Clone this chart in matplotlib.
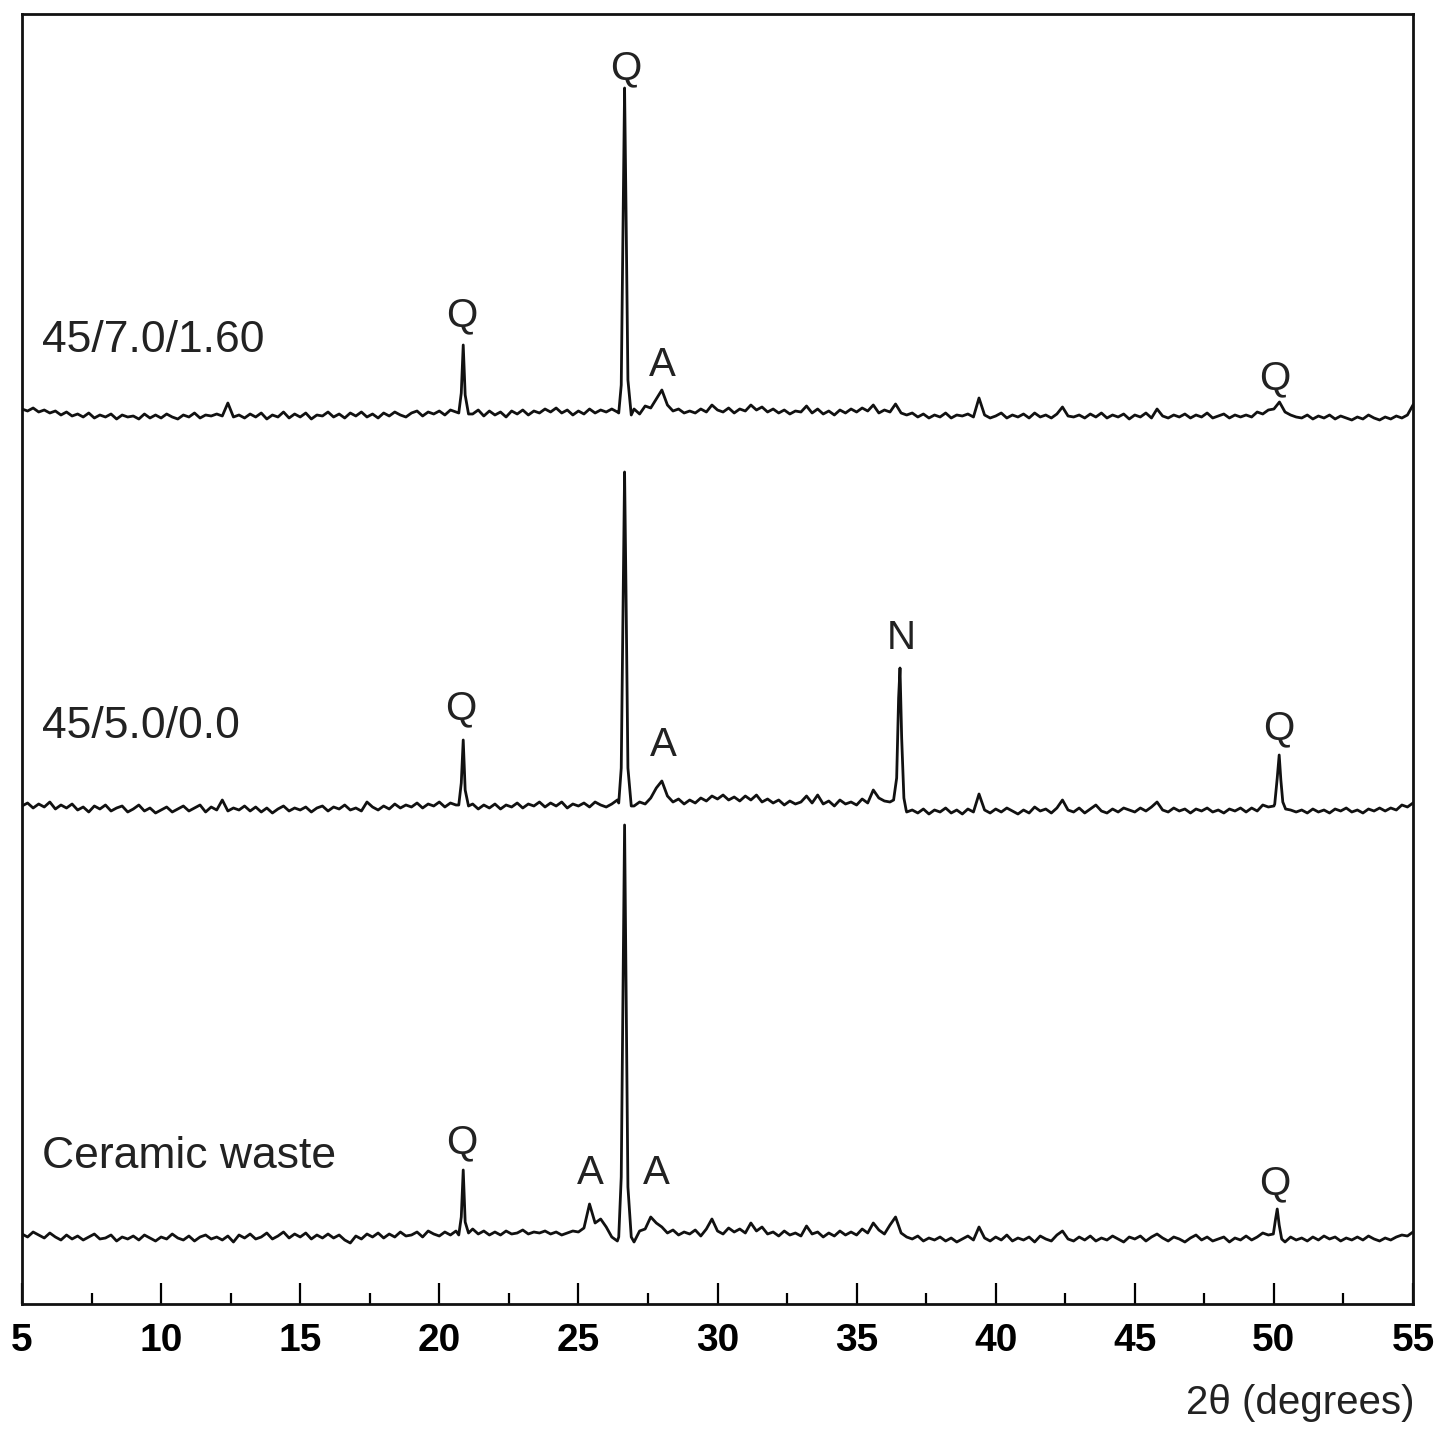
import numpy as np
import matplotlib.pyplot as plt

plt.rcParams['font.family'] = ['Liberation Sans', 'DejaVu Sans']

# 2-theta grid for the background counts (0.2 deg steps)
two_theta = np.round(np.arange(5.0, 55.0001, 0.2), 1)

# background counts, one row per degree (x.0 .. x.8), last value at 55
base_top = [
    6, 4, 7, 3, 5,   2, 4, 0, 3, -1,   1, -2, 2, -3, 0,   -2, 1, -4, 0, -2,
    -1, -4, 1, -3, 0,   -3, 1, -2, -4, 0,   -2, 2, -3, 0, -1,   1, -1, 12, -2, 0,
    -3, 1, -2, 2, -4,   0, -2, 3, -3, 1,   -2, 2, -4, 0, -1,   3, -2, 1, -3, 2,
    -1, 3, -2, 1, -3,   2, -1, 3, 0, -2,   2, 4, -1, 3, 1,   4, 0, 5, 3, 0,
    0, 1, 5, -1, 4,   0, 3, -2, 4, 1,   5, 0, 4, 2, 6,   3, 7, 2, 5, 0,
    4, 1, 6, 2, 5,   3, 6, 3, 0, 0,   6, 1, 9, 7, 16,   25, 10, 4, 6, 2,
    4, 2, 6, 3, 10,   5, 3, 7, 2, 6,   4, 10, 5, 8, 3,   6, 2, 5, 1, 4,
    3, 9, 2, 6, 1,   4, 0, 5, 2, 6,   3, 7, 4, 10, 2,   5, 3, 11, 2, 0,
    2, -2, 1, -3, 0,   -2, 2, -3, 0, -1,   1, -2, 17, 0, -3,   -1, 2, -3, 0, -2,
    1, -3, 2, -2, 0,   -3, 1, 8, -1, -2,   0, -3, 1, -2, 2,   -3, 0, -2, 1, -4,
    0, -2, 2, -3, 6,   -1, -3, 0, -2, 1,   -3, 0, -2, 2, -3,   -1, 1, -3, 0, -2,
    0, -2, 3, 1, 5,   6, 13, 3, 0, -2,   -3, 0, -4, -1, -3,   0, -4, -1, -3, -5,
    -2, -4, 0, -3, -5,   -2, -4, -1, -3, 0,
    10,
]
base_mid = [
    2, 5, 0, 4, 1,   6, -1, 3, 0, 4,   -2, 1, -4, 2, -1,   3, -3, 0, 2, -4,
    -1, 3, -3, 0, -5,   -2, 1, -4, -1, 2,   -3, 0, 3, -4, 1,   -2, 8, -3, 0, -2,
    2, -3, 1, -4, 0,   -5, -1, 2, -3, 0,   -2, 1, -4, 0, 2,   -3, 1, -1, 3, -2,
    0, -3, 6, 1, -2,   2, -1, 4, 0, 3,   1, 5, 0, 4, 2,   6, 1, 5, 3, 0,
    0, 4, -1, 3, 0,   4, -1, 3, 1, 5,   0, 4, 2, 6, 1,   5, 2, 6, 0, 4,
    2, 5, 1, 6, 3,   1, 4, 8, 0, 0,   2, 6, 4, 10, 20,   27, 12, 6, 9, 4,
    8, 5, 10, 7, 12,   9, 13, 8, 11, 7,   12, 8, 13, 6, 9,   5, 8, 3, 7, 4,
    6, 12, 5, 13, 4,   7, 2, 8, 4, 6,   3, 9, 5, 18, 10,   7, 6, 0, 0, -4,
    -2, -5, -1, -6, -2,   -4, 0, -5, -2, -6,   -1, -4, 14, -2, -5,   -1, -4, 0, -3, -6,
    -2, -5, 1, -3, -1,   -5, 0, 8, -2, -4,   0, -5, -1, 3, -3,   -5, -1, -4, 0, -2,
    -4, 0, -3, 1, 6,   -2, -4, 0, -3, -1,   -5, -1, -3, 0, -4,   -2, -5, -1, -3, 0,
    -4, 0, -3, 3, 1,   2, 0, 0, -2, -4,   -2, -5, -1, -4, -2,   -5, -1, -3, 0, -4,
    -2, -5, -1, -3, 0,   -3, 0, -2, 3, 1,
    5,
]
base_bot = [
    3, 0, 5, 2, -1,   4, 0, -3, 2, -2,   1, -3, 0, 3, -2,   -1, 2, -4, 0, -2,
    1, -3, 2, -1, -4,   0, -2, 3, -1, -3,   1, -4, 0, 2, -2,   0, -3, 1, -5, 2,
    -1, 3, -2, 0, 4,   -2, 1, 5, -1, 3,   0, 4, -2, 2, -1,   3, -1, 2, -3, -6,
    1, -2, 3, 0, 4,   -1, 3, 0, 5, 1,   2, 5, 0, 6, 3,   1, 5, 2, 6, 0,
    0, 8, 3, 6, 2,   5, 2, 6, 3, 4,   7, 3, 5, 4, 6,   3, 5, 2, 4, 6,
    5, 9, 33, 14, 18,   10, 0, -4, 0, 0,   -5, 6, 8, 20, 14,   10, 4, 7, 2, 5,
    3, 7, 1, 8, 18,   6, 3, 9, 5, 8,   4, 14, 6, 10, 3,   5, 1, 6, 2, 4,
    1, 11, 3, 5, 0,   4, 1, 6, 2, 5,   2, 8, 4, 14, 7,   3, 12, 20, 4, 0,
    -2, 1, -4, -1, -3,   0, -4, -1, -5, -2,   1, -3, 10, -1, -4,   0, -3, 2, -4, -1,
    -3, 0, -5, 1, -2,   -4, 2, 6, -2, -4,   0, -3, 1, -4, -1,   -3, 1, -2, -5, 0,
    -2, 1, -4, 0, 3,   -1, -4, 0, -2, -5,   -1, 2, -3, 0, -4,   -2, 0, -5, -1, -3,
    1, -3, 0, 4, 2,   0, 0, -5, 0, -3,   -1, -4, 0, -3, 1,   -2, 0, -4, -1, -3,
    0, -3, 1, -2, -4,   -1, -3, 0, 2, 1,
    5,
]

# sharp reflections: (2-theta points, counts)
q1_x = [20.70, 20.79, 20.86, 20.93, 21.05]
q_main_x = [26.45, 26.54, 26.61, 26.66, 26.71, 26.78, 26.90]

peaks_top = [
    (q1_x, [2, 22, 70, 20, 1]),
    (q_main_x, [2, 30, 200, 327, 210, 35, 0]),
]
peaks_mid = [
    (q1_x, [3, 25, 68, 18, 2]),
    (q_main_x, [5, 40, 210, 336, 220, 40, 2]),
    ([36.33, 36.44, 36.51, 36.56, 36.62, 36.70, 36.78], [8, 30, 110, 140, 70, 10, -2]),
    ([50.03, 50.12, 50.19, 50.25, 50.32, 50.42], [4, 30, 53, 28, 6, -1]),
]
peaks_bot = [
    (q1_x, [2, 20, 67, 15, 4]),
    (q_main_x, [0, 60, 260, 412, 260, 50, 0]),
    ([49.98, 50.06, 50.12, 50.19, 50.28], [3, 18, 28, 12, -2]),
]

sample_names = ['45/7.0/1.60', '45/5.0/0.0', 'Ceramic waste']

# phase labels per pattern: (letter, 2-theta, height above baseline)
labels_top = [('Q', 20.82, 100), ('Q', 26.71, 347), ('A', 28.0, 50), ('Q', 50.04, 37)]
labels_mid = [('Q', 20.78, 100), ('A', 28.04, 63), ('N', 36.6, 170), ('Q', 50.18, 80)]
labels_bot = [('Q', 20.82, 95), ('A', 25.42, 64), ('A', 27.79, 64), ('Q', 50.04, 54)]


def build(base, peaks):
    x = two_theta.copy()
    y = np.array(base, dtype=float)
    keep = np.ones(len(x), dtype=bool)
    for px, py in peaks:
        keep &= ~((x > px[0]) & (x < px[-1]))
    xs = np.concatenate([x[keep]] + [np.array(p[0]) for p in peaks])
    ys = np.concatenate([y[keep]] + [np.array(p[1], dtype=float) for p in peaks])
    order = np.argsort(xs)
    return xs[order], ys[order]


fig = plt.figure(figsize=(14.44, 14.32), dpi=100)
ax = fig.add_axes([22 / 1444, 1 - 1304 / 1432, (1413 - 22) / 1444, (1304 - 14) / 1432])

offsets = [889, 496, 67]
all_base = [base_top, base_mid, base_bot]
all_peaks = [peaks_top, peaks_mid, peaks_bot]
all_labels = [labels_top, labels_mid, labels_bot]
name_y = [75, 81, 80]

for off, base, pk, labs, name, ny in zip(offsets, all_base, all_peaks, all_labels, sample_names, name_y):
    x, y = build(base, pk)
    ax.plot(x, y + off, color='#111111', lw=2.0)
    ax.text(5.72, off + ny, name, fontsize=32, ha='left', va='center', color='#222222')
    for letter, lx, ly in labs:
        ax.text(lx, off + ly, letter, fontsize=29, ha='center', va='center', color='#222222')

ax.set_xlim(5, 55)
ax.set_ylim(0, 1290)
ax.set_yticks([])
ax.set_xticks(np.arange(5, 56, 5))
ax.set_xticks(np.arange(7.5, 55, 5), minor=True)
ax.tick_params(axis='x', which='major', direction='in', length=15, width=1.6, pad=14,
               labelsize=28)
ax.tick_params(axis='x', which='minor', direction='in', length=8, width=1.6)
for lab in ax.get_xticklabels():
    lab.set_fontweight('bold')
for s in ax.spines.values():
    s.set_linewidth(2.0)
    s.set_color('#111111')

fig.text(1415 / 1444, 1 - 1403 / 1432, '2θ (degrees)', fontsize=29, ha='right', va='center',
         color='#222222')

fig.savefig('out.png', dpi=100)
